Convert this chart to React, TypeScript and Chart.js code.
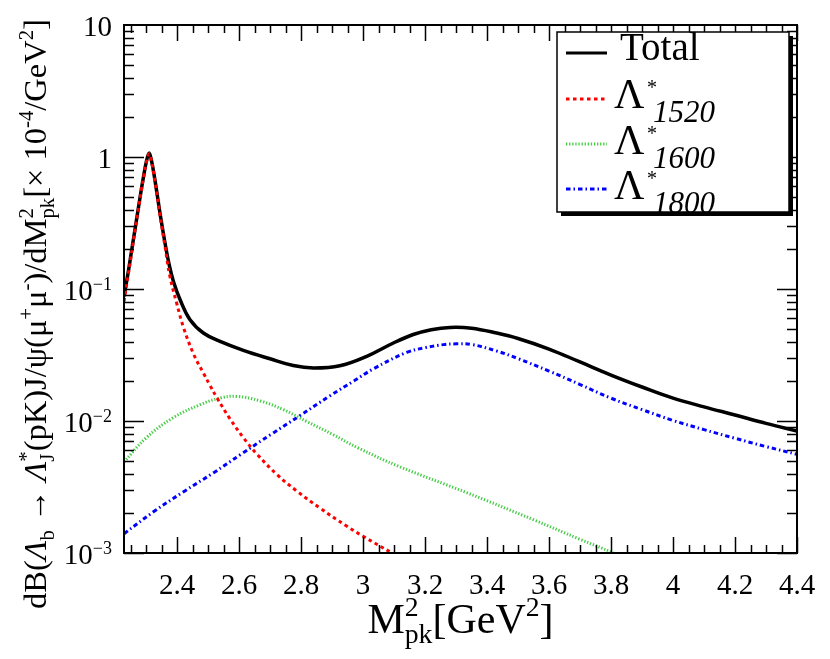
import { useEffect, useRef } from 'react';
import { Chart, registerables } from 'chart.js';
import type { Plugin } from 'chart.js';

Chart.register(...registerables);

const FONT = '"Liberation Serif", "Times New Roman", serif';

// total
const totalX = [
  2.229, 2.243, 2.254, 2.265, 2.276, 2.285, 2.292, 2.301, 2.31, 2.318, 2.327, 2.336, 2.345, 2.361,
  2.375, 2.389, 2.41, 2.442, 2.485, 2.539, 2.614, 2.7, 2.775, 2.84, 2.925, 3.012, 3.098, 3.162, 3.22,
  3.281, 3.35, 3.431, 3.5, 3.6, 3.7, 3.8, 3.9, 4.0, 4.1, 4.2, 4.3, 4.4,
];
const totalY = [
  0.088, 0.136, 0.198, 0.288, 0.42, 0.57, 0.71, 0.92, 1.07, 0.93, 0.71, 0.52, 0.376, 0.225,
  0.152, 0.113, 0.083, 0.0585, 0.0464, 0.0401, 0.0343, 0.0296, 0.0263, 0.0252, 0.0262, 0.0309,
  0.039, 0.0452, 0.0492, 0.0512, 0.0505, 0.0464, 0.0422, 0.0351, 0.028, 0.0223, 0.0181, 0.0149,
  0.0128, 0.0111, 0.0096, 0.0084,
];

// Lambda(1520)
const l1520X = [
  2.229, 2.243, 2.254, 2.265, 2.276, 2.285, 2.292, 2.301, 2.31, 2.318, 2.327, 2.336, 2.345, 2.361,
  2.377, 2.399, 2.42, 2.452, 2.485, 2.506, 2.528, 2.571, 2.614, 2.657, 2.722, 2.786, 2.861, 2.947,
  3.0, 3.097, 3.2,
];
const l1520Y = [
  0.0805, 0.13, 0.19, 0.285, 0.41, 0.56, 0.7, 0.91, 1.06, 0.92, 0.7, 0.51, 0.365, 0.212, 0.125,
  0.078, 0.052, 0.0327, 0.0231, 0.0187, 0.0151, 0.01038, 0.00748, 0.00564, 0.00394, 0.00295,
  0.00219, 0.0016, 0.00134, 0.00099, 0.00072,
];

// Lambda(1600)
const l1600X = [
  2.229, 2.3, 2.386, 2.474, 2.539, 2.593, 2.668, 2.743, 2.818, 2.904, 2.985, 3.119, 3.334, 3.549,
  3.7, 3.807, 3.9,
];
const l1600Y = [
  0.0049, 0.00743, 0.01054, 0.01328, 0.01494, 0.01536, 0.0142, 0.0122, 0.00993, 0.00787, 0.00624,
  0.0045, 0.00287, 0.00179, 0.00127, 0.001, 0.00078,
];

// Lambda(1800)
const l1800X = [
  2.229, 2.324, 2.42, 2.517, 2.609, 2.705, 2.797, 2.894, 2.969, 3.033, 3.141, 3.2, 3.26, 3.302, 3.35,
  3.431, 3.5, 3.6, 3.7, 3.8, 3.9, 4.0, 4.1, 4.2, 4.3, 4.4,
];
const l1800Y = [
  0.0014, 0.00205, 0.0029, 0.00404, 0.00565, 0.00797, 0.011, 0.01556, 0.02, 0.0248, 0.0331, 0.0359,
  0.0379, 0.0384, 0.038, 0.0339, 0.0297, 0.0239, 0.0189, 0.0149, 0.0122, 0.0101, 0.0086, 0.0074,
  0.0064, 0.0056,
];

const xTickValues = [2.4, 2.6, 2.8, 3, 3.2, 3.4, 3.6, 3.8, 4, 4.2, 4.4];
const xTickLabels = ['2.4', '2.6', '2.8', '3', '3.2', '3.4', '3.6', '3.8', '4', '4.2', '4.4'];
const yTickValues = [10, 1, 0.1, 0.01, 0.001];
const yTickBases = ['10', '1', '10', '10', '10'];
const yTickExps = ['', '', '\u22121', '\u22122', '\u22123'];

const legendNames = ['Total', '1520', '1600', '1800'];
const seriesColors = ['#000000', '#ff0000', '#44cc44', '#0000ff'];
const seriesDashes: number[][] = [[], [3.5, 3.5], [1.3, 1.8], [4.5, 3, 1.5, 3]];

interface Seg {
  t: string;
  sup?: string;
  sub?: string;
  it?: boolean;
}

const yTitle: Seg[] = [
  { t: 'dB(' },
  { t: '\u039B', it: true, sub: 'b' },
  { t: ' \u2192 ' },
  { t: '\u039B', it: true, sup: '*', sub: 'J' },
  { t: '(pK)J/\u03C8(\u03BC', sup: '+' },
  { t: '\u03BC', sup: '-' },
  { t: ')/dM', sup: '2', sub: 'pk' },
  { t: '[\u00D7 10', sup: '-4' },
  { t: '/GeV', sup: '2' },
  { t: ']' },
];

const xTitle: Seg[] = [{ t: 'M', sup: '2', sub: 'pk' }, { t: '[GeV', sup: '2' }, { t: ']' }];

function font(size: number, italic = false) {
  return `${italic ? 'italic ' : ''}${size}px ${FONT}`;
}

function drawRich(
  ctx: CanvasRenderingContext2D,
  segs: Seg[],
  x: number,
  y: number,
  size: number,
  ratio = 0.64,
) {
  const small = size * ratio;
  const widths = segs.map((s) => {
    ctx.font = font(size, s.it);
    const w = ctx.measureText(s.t).width;
    ctx.font = font(small);
    const a = s.sup ? ctx.measureText(s.sup).width : 0;
    const b = s.sub ? ctx.measureText(s.sub).width : 0;
    return [w, Math.max(a, b)];
  });
  const total = widths.reduce((acc, [w, e]) => acc + w + e, 0);
  let cx = x - total / 2;
  ctx.textAlign = 'left';
  ctx.textBaseline = 'alphabetic';
  segs.forEach((s, i) => {
    ctx.font = font(size, s.it);
    ctx.fillText(s.t, cx, y);
    cx += widths[i][0];
    ctx.font = font(small);
    if (s.sup) ctx.fillText(s.sup, cx, y - size * 0.4);
    if (s.sub) ctx.fillText(s.sub, cx, y + size * 0.24);
    cx += widths[i][1];
  });
}

const framePlugin: Plugin<'line'> = {
  id: 'frame',
  afterDraw(chart) {
    const { ctx, chartArea: a } = chart;
    const xs = chart.scales.x;
    const ys = chart.scales.y;
    ctx.save();
    ctx.fillStyle = '#000';
    ctx.strokeStyle = '#000';

    // x ticks (bottom and top)
    ctx.lineWidth = 1.5;
    for (let i = 0; i <= 43; i++) {
      const v = 2.25 + i * 0.05;
      const px = Math.round(xs.getPixelForValue(v)) + 0.5;
      const major = i % 4 === 3;
      const len = major ? 16 : 8;
      ctx.beginPath();
      ctx.moveTo(px, a.bottom);
      ctx.lineTo(px, a.bottom - len);
      ctx.moveTo(px, a.top);
      ctx.lineTo(px, a.top + len);
      ctx.stroke();
    }
    // y ticks (left and right)
    for (let d = -3; d <= 0; d++) {
      for (let k = 1; k <= 9; k++) {
        const v = k * Math.pow(10, d);
        const py = Math.round(ys.getPixelForValue(v)) + 0.5;
        const len = k === 1 ? 20 : 10;
        ctx.beginPath();
        ctx.moveTo(a.left, py);
        ctx.lineTo(a.left + len, py);
        ctx.moveTo(a.right, py);
        ctx.lineTo(a.right - len, py);
        ctx.stroke();
      }
    }

    // frame
    ctx.lineWidth = 2;
    ctx.strokeRect(a.left, a.top, a.right - a.left, a.bottom - a.top);

    // x tick labels
    ctx.font = font(29);
    ctx.textAlign = 'center';
    ctx.textBaseline = 'alphabetic';
    xTickValues.forEach((v, i) => {
      ctx.fillText(xTickLabels[i], xs.getPixelForValue(v), 594);
    });

    // y tick labels
    yTickValues.forEach((v, i) => {
      const py = ys.getPixelForValue(v);
      let right = 112;
      ctx.textAlign = 'right';
      if (yTickExps[i]) {
        ctx.font = font(18);
        ctx.fillText(yTickExps[i], right, py + 1);
        right -= ctx.measureText(yTickExps[i]).width;
      }
      ctx.font = font(29);
      ctx.fillText(yTickBases[i], right, py + 11);
    });

    // axis titles
    drawRich(ctx, xTitle, (a.left + a.right) / 2, 633, 42, 0.66);
    ctx.save();
    ctx.translate(46, 314);
    ctx.rotate(-Math.PI / 2);
    drawRich(ctx, yTitle, 0, 0, 32.5);
    ctx.restore();

    // legend
    const lx = 557;
    const ly = 32;
    const lw = 232;
    const lh = 180;
    ctx.fillStyle = '#000';
    ctx.fillRect(lx + 4, ly + 4, lw, lh);
    ctx.fillStyle = '#fff';
    ctx.fillRect(lx, ly, lw, lh);
    ctx.lineWidth = 1.5;
    ctx.strokeRect(lx, ly, lw, lh);

    const lineY = [53, 99, 144, 189];
    lineY.forEach((yy, i) => {
      ctx.strokeStyle = seriesColors[i];
      ctx.lineWidth = 3;
      ctx.setLineDash(seriesDashes[i]);
      ctx.beginPath();
      ctx.moveTo(566, yy);
      ctx.lineTo(607, yy);
      ctx.stroke();
    });
    ctx.setLineDash([]);
    ctx.fillStyle = '#000';
    ctx.textAlign = 'left';
    ctx.font = font(39);
    ctx.fillText(legendNames[0], 620, 60);
    for (let i = 1; i < 4; i++) {
      const base = 108 + (i - 1) * 45.5;
      ctx.font = font(42);
      ctx.fillText('\u039B', 614, base);
      ctx.font = font(20);
      ctx.fillText('*', 647, base - 14);
      ctx.font = font(31, true);
      ctx.fillText(legendNames[i], 653, base + 14);
    }
    ctx.restore();
  },
};

function pts(xs: number[], ys: number[]) {
  return xs.map((x, i) => ({ x, y: ys[i] }));
}

export default function App() {
  const canvasRef = useRef<HTMLCanvasElement | null>(null);

  useEffect(() => {
    if (!canvasRef.current) return;
    const series = [
      pts(totalX, totalY),
      pts(l1520X, l1520Y),
      pts(l1600X, l1600Y),
      pts(l1800X, l1800Y),
    ];
    const order = [1, 0, 2, 3];
    const chart = new Chart(canvasRef.current, {
      type: 'line',
      data: {
        datasets: series.map((data, i) => ({
          label: legendNames[i],
          data,
          borderColor: seriesColors[i],
          borderWidth: i === 0 ? 3.5 : 3,
          borderDash: seriesDashes[i],
          pointRadius: 0,
          fill: false,
          tension: 0.4,
          order: order[i],
        })),
      },
      options: {
        animation: false,
        responsive: true,
        maintainAspectRatio: false,
        layout: { padding: { left: 124, top: 25, right: 33, bottom: 106 } },
        scales: {
          x: { type: 'linear', min: 2.229, max: 4.4, display: false },
          y: { type: 'logarithmic', min: 0.001, max: 10, display: false },
        },
        plugins: {
          legend: { display: false },
          tooltip: { enabled: false },
        },
      },
      plugins: [framePlugin],
    });
    return () => chart.destroy();
  }, []);

  return (
    <div style={{ position: 'absolute', left: 0, top: 0, width: 830, height: 659, background: '#fff' }}>
      <canvas ref={canvasRef} />
    </div>
  );
}
